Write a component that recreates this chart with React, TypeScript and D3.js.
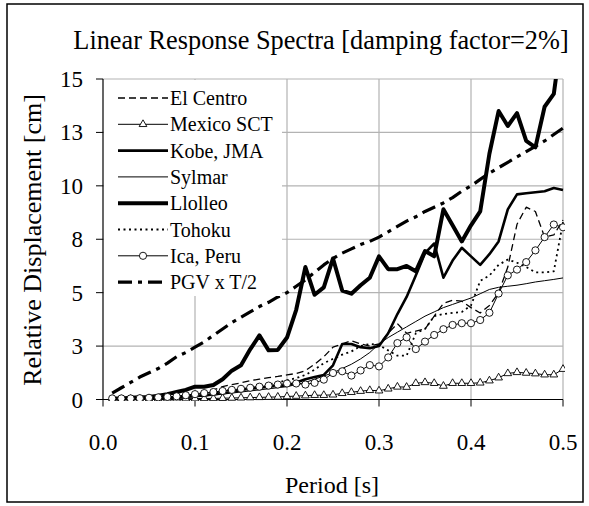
import React, { useEffect, useRef } from 'react';
import * as d3 from 'd3';

// periods [s]
const periods = [
  0.01, 0.02, 0.03, 0.04, 0.05, 0.06, 0.07, 0.08, 0.09, 0.1,
  0.11, 0.12, 0.13, 0.14, 0.15, 0.16, 0.17, 0.18, 0.19, 0.2,
  0.21, 0.22, 0.23, 0.24, 0.25, 0.26, 0.27, 0.28, 0.29, 0.3,
  0.31, 0.32, 0.33, 0.34, 0.35, 0.36, 0.37, 0.38, 0.39, 0.4,
  0.41, 0.42, 0.43, 0.44, 0.45, 0.46, 0.47, 0.48, 0.49, 0.5,
];

// relative displacement [cm]
const elCentro = [
  0.02, 0.03, 0.04, 0.05, 0.07, 0.08, 0.1, 0.15, 0.2, 0.25,
  0.35, 0.45, 0.6, 0.7, 0.78, 0.88, 0.95, 1.02, 1.08, 1.15,
  1.22, 1.35, 1.65, 2.0, 2.45, 2.6, 2.75, 2.6, 2.5, 2.6,
  3.1, 3.55, 3.1, 3.2, 3.3, 3.9, 4.5, 4.65, 4.6, 4.3,
  4.05, 4.4, 5.0, 6.2, 8.2, 9.0, 8.8, 7.6, 7.7, 8.4,
];
const mexicoSCT = [
  0.01, 0.01, 0.02, 0.02, 0.02, 0.03, 0.03, 0.03, 0.04, 0.04,
  0.05, 0.05, 0.06, 0.07, 0.08, 0.09, 0.1, 0.11, 0.12, 0.14,
  0.16, 0.18, 0.2, 0.2, 0.22, 0.29, 0.34, 0.39, 0.43, 0.41,
  0.5, 0.59, 0.58, 0.76, 0.8, 0.76, 0.63, 0.76, 0.76, 0.76,
  0.78, 0.88, 1.02, 1.22, 1.27, 1.24, 1.21, 1.16, 1.16, 1.42,
];
const kobe = [
  0.02, 0.03, 0.03, 0.04, 0.05, 0.06, 0.08, 0.1, 0.13, 0.17,
  0.2, 0.25, 0.3, 0.35, 0.45, 0.5, 0.55, 0.6, 0.65, 0.65,
  0.8, 0.95, 1.05, 1.15, 1.6, 2.6, 2.6, 2.45, 2.4, 2.5,
  3.1, 4.0, 4.8, 5.8, 6.85, 7.3, 5.7, 6.5, 7.1, 6.7,
  6.3, 6.8, 7.4, 8.9, 9.6, 9.65, 9.7, 9.75, 9.9, 9.8,
];
const sylmar = [
  0.01, 0.01, 0.02, 0.03, 0.04, 0.05, 0.06, 0.08, 0.1, 0.12,
  0.15, 0.2, 0.25, 0.3, 0.35, 0.4, 0.45, 0.5, 0.55, 0.6,
  0.7, 0.8, 0.95, 1.1, 1.25, 1.45, 1.65, 1.9, 2.2, 2.6,
  2.9, 3.15, 3.4, 3.65, 3.9, 4.1, 4.3, 4.45, 4.6, 4.75,
  4.95, 5.15, 5.25, 5.3, 5.35, 5.42, 5.5, 5.56, 5.62, 5.69,
];
const llolleo = [
  0.05, 0.05, 0.08, 0.1, 0.12, 0.18, 0.25, 0.35, 0.45, 0.6,
  0.6, 0.68, 0.95, 1.35, 1.6, 2.35, 3.0, 2.3, 2.32, 2.9,
  4.2, 6.2, 4.9, 5.25, 6.6, 5.1, 4.95, 5.35, 5.7, 6.7,
  6.1, 6.1, 6.25, 6.0, 6.95, 6.7, 8.9, 8.15, 7.4, 8.15,
  8.8, 11.5, 13.5, 12.8, 13.4, 12.1, 11.8, 13.7, 14.3, 17.5,
];
const tohoku = [
  0.01, 0.02, 0.03, 0.04, 0.05, 0.06, 0.08, 0.1, 0.15, 0.2,
  0.25, 0.3, 0.4, 0.45, 0.5, 0.55, 0.6, 0.7, 0.8, 0.9,
  1.0, 1.15, 1.4, 1.7, 1.9, 2.1, 2.25, 2.5, 2.6, 2.55,
  2.3, 2.05, 2.05, 3.1, 3.3, 3.9, 4.0, 4.05, 4.1, 4.4,
  5.55, 5.8, 6.3, 6.55, 6.4, 6.2, 5.95, 5.95, 6.0, 8.3,
];
const icaPeru = [
  0.05, 0.05, 0.05, 0.06, 0.08, 0.1, 0.12, 0.15, 0.2, 0.25,
  0.3, 0.35, 0.4, 0.45, 0.5, 0.55, 0.6, 0.65, 0.7, 0.75,
  0.75, 0.7, 0.78, 0.93, 1.24, 1.32, 1.12, 1.36, 1.61, 1.55,
  1.97, 2.64, 2.91, 2.36, 2.71, 3.02, 3.29, 3.49, 3.57, 3.57,
  3.72, 4.06, 4.96, 5.81, 6.08, 6.43, 6.98, 7.6, 8.19, 8.06,
];
const pgvHalfT = [
  0.3, 0.55, 0.8, 1.05, 1.25, 1.45, 1.7, 2.0, 2.2, 2.45,
  2.7, 3.0, 3.3, 3.6, 3.85, 4.1, 4.35, 4.55, 4.8, 5.0,
  5.3, 5.6, 5.95, 6.3, 6.6, 6.85, 7.05, 7.25, 7.4, 7.6,
  7.85, 8.1, 8.35, 8.55, 8.8, 9.0, 9.2, 9.45, 9.75, 10.0,
  10.3, 10.6, 10.85, 11.1, 11.35, 11.6, 11.85, 12.1, 12.4, 12.7,
];

const xTicks = [0, 0.1, 0.2, 0.3, 0.4, 0.5];
const xTickLabels = ['0.0', '0.1', '0.2', '0.3', '0.4', '0.5'];
const yTicks = [0, 2.5, 5, 7.5, 10, 12.5, 15];
const yTickLabels = ['0', '3', '5', '8', '10', '13', '15'];

const FONT = '"Liberation Serif", "Times New Roman", serif';

export default function App() {
  const ref = useRef<SVGSVGElement>(null);

  useEffect(() => {
    const svg = d3.select(ref.current);
    svg.selectAll('*').remove();

    const x = d3.scaleLinear().domain([0, 0.5]).range([103, 563]);
    const y = d3.scaleLinear().domain([0, 15]).range([399.5, 79]);

    const series = [
      { name: 'El Centro', data: elCentro, width: 1.3, dash: '7,4', marker: null },
      { name: 'Mexico SCT', data: mexicoSCT, width: 1, dash: null, marker: 'triangle' },
      { name: 'Kobe, JMA', data: kobe, width: 2.6, dash: null, marker: null },
      { name: 'Sylmar', data: sylmar, width: 1, dash: null, marker: null },
      { name: 'Llolleo', data: llolleo, width: 4, dash: null, marker: null },
      { name: 'Tohoku', data: tohoku, width: 1.8, dash: '2,3.5', marker: null },
      { name: 'Ica, Peru', data: icaPeru, width: 1, dash: null, marker: 'circle' },
      { name: 'PGV x T/2', data: pgvHalfT, width: 3.2, dash: '14,6,4,6', marker: null },
    ];

    svg.append('rect')
      .attr('x', 0).attr('y', 0).attr('width', 589).attr('height', 506)
      .attr('fill', 'white');
    svg.append('rect')
      .attr('x', 7).attr('y', 4).attr('width', 576).attr('height', 498)
      .attr('fill', 'none').attr('stroke', 'black').attr('stroke-width', 1.5);

    svg.append('defs').append('clipPath').attr('id', 'plotClip')
      .append('rect').attr('x', 103).attr('y', 79).attr('width', 462).attr('height', 322);

    // grid
    svg.append('g').selectAll('line').data(yTicks.slice(1)).join('line')
      .attr('x1', x(0)).attr('x2', x(0.5))
      .attr('y1', d => y(d)).attr('y2', d => y(d))
      .attr('stroke', '#b3b3b3').attr('stroke-width', 1.2);
    svg.append('g').selectAll('line').data(xTicks.slice(1)).join('line')
      .attr('x1', d => x(d)).attr('x2', d => x(d))
      .attr('y1', y(0)).attr('y2', y(15))
      .attr('stroke', '#b3b3b3').attr('stroke-width', 1.2);

    // axes
    svg.append('line').attr('x1', x(0)).attr('x2', x(0)).attr('y1', y(0)).attr('y2', y(15))
      .attr('stroke', 'black').attr('stroke-width', 1.2);
    svg.append('line').attr('x1', x(0)).attr('x2', x(0.5)).attr('y1', y(0)).attr('y2', y(0))
      .attr('stroke', 'black').attr('stroke-width', 1.2);
    svg.append('g').selectAll('line').data(yTicks).join('line')
      .attr('x1', x(0) - 7).attr('x2', x(0))
      .attr('y1', d => y(d)).attr('y2', d => y(d))
      .attr('stroke', 'black');
    svg.append('g').selectAll('line').data(xTicks).join('line')
      .attr('x1', d => x(d)).attr('x2', d => x(d))
      .attr('y1', y(0)).attr('y2', y(0) + 7)
      .attr('stroke', 'black');

    svg.append('g').selectAll('text').data(yTicks).join('text')
      .attr('x', x(0) - 20).attr('y', d => y(d) + 8)
      .attr('text-anchor', 'end')
      .style('font-family', FONT).style('font-size', '23px')
      .text((d, i) => yTickLabels[i]);
    svg.append('g').selectAll('text').data(xTicks).join('text')
      .attr('x', d => x(d)).attr('y', 450)
      .attr('text-anchor', 'middle')
      .style('font-family', FONT).style('font-size', '23px')
      .text((d, i) => xTickLabels[i]);

    svg.append('text')
      .attr('x', 321).attr('y', 49)
      .attr('text-anchor', 'middle')
      .style('font-family', FONT).style('font-size', '26.3px')
      .text('Linear Response Spectra [damping factor=2%]');
    svg.append('text')
      .attr('x', 332).attr('y', 493)
      .attr('text-anchor', 'middle')
      .style('font-family', FONT).style('font-size', '24px')
      .text('Period [s]');
    svg.append('text')
      .attr('transform', 'translate(41,240) rotate(-90)')
      .attr('text-anchor', 'middle')
      .style('font-family', FONT).style('font-size', '26px')
      .text('Relative Displacement [cm]');

    // series
    const plot = svg.append('g').attr('clip-path', 'url(#plotClip)');
    const line = d3.line<number>()
      .x((d, i) => x(periods[i]))
      .y(d => y(d));

    series.forEach(s => {
      plot.append('path')
        .datum(s.data)
        .attr('fill', 'none')
        .attr('stroke', 'black')
        .attr('stroke-width', s.width)
        .attr('stroke-dasharray', s.dash)
        .attr('stroke-linejoin', 'round')
        .attr('d', line);

      if (s.marker === 'triangle') {
        plot.append('g').selectAll('path').data(s.data).join('path')
          .attr('d', d3.symbol().type(d3.symbolTriangle).size(26))
          .attr('transform', (d, i) => `translate(${x(periods[i])},${y(d)})`)
          .attr('fill', 'white').attr('stroke', 'black').attr('stroke-width', 0.9);
      }
      if (s.marker === 'circle') {
        plot.append('g').selectAll('circle').data(s.data).join('circle')
          .attr('cx', (d, i) => x(periods[i])).attr('cy', d => y(d)).attr('r', 3.6)
          .attr('fill', 'white').attr('stroke', 'black').attr('stroke-width', 0.9);
      }
    });

    // legend
    const legend = svg.append('g');
    legend.append('rect')
      .attr('x', 104).attr('y', 80).attr('width', 178).attr('height', 216)
      .attr('fill', 'white');
    series.forEach((s, i) => {
      const ly = 98 + i * 26.3;
      legend.append('line')
        .attr('x1', 118).attr('x2', 168).attr('y1', ly).attr('y2', ly)
        .attr('stroke', 'black')
        .attr('stroke-width', s.width)
        .attr('stroke-dasharray', s.dash);
      if (s.marker === 'triangle') {
        legend.append('path')
          .attr('d', d3.symbol().type(d3.symbolTriangle).size(26)())
          .attr('transform', `translate(143,${ly})`)
          .attr('fill', 'white').attr('stroke', 'black').attr('stroke-width', 0.9);
      }
      if (s.marker === 'circle') {
        legend.append('circle')
          .attr('cx', 143).attr('cy', ly).attr('r', 3.6)
          .attr('fill', 'white').attr('stroke', 'black').attr('stroke-width', 0.9);
      }
      legend.append('text')
        .attr('x', 170).attr('y', ly + 7)
        .style('font-family', FONT).style('font-size', '20px')
        .text(s.name);
    });
  }, []);

  return (
    <svg
      ref={ref}
      width={589}
      height={506}
      style={{ position: 'absolute', left: 0, top: 0, display: 'block' }}
    />
  );
}
